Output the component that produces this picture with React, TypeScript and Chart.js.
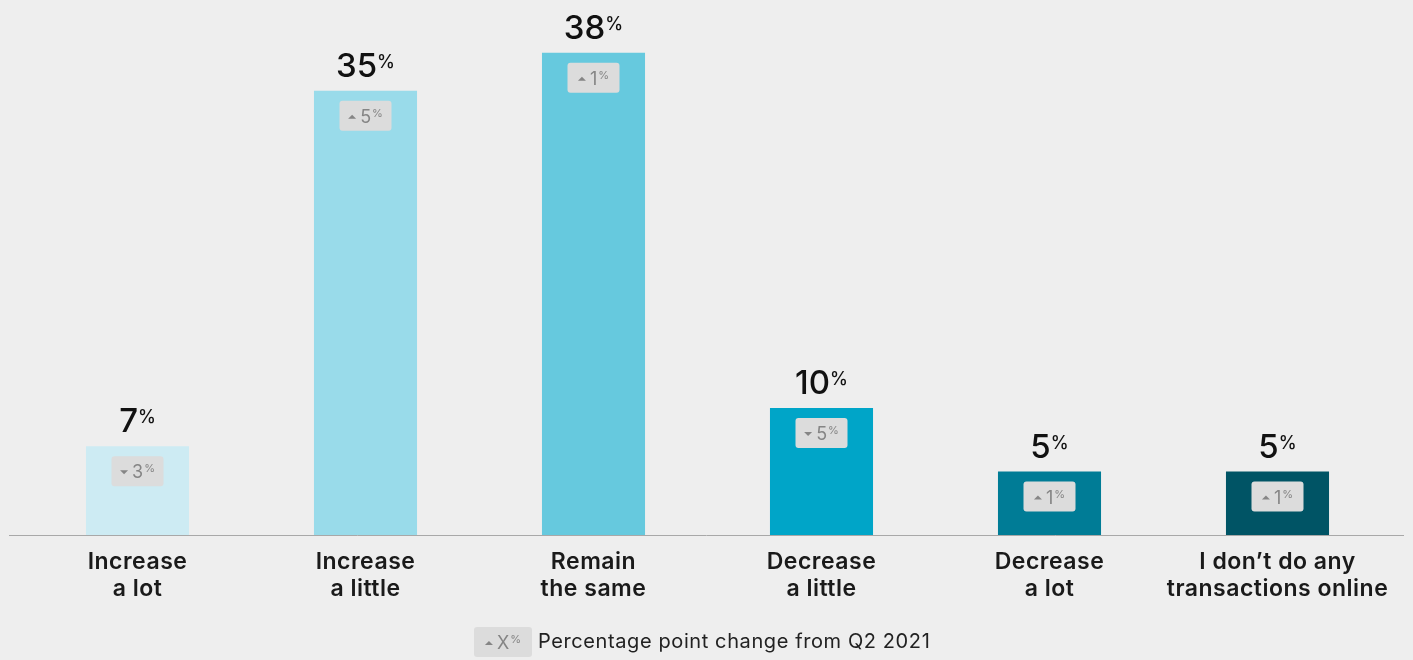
import React, { useEffect, useRef } from "react";
import { Chart, registerables } from "chart.js";

Chart.register(...registerables);

const categories: string[][] = [
  ["Increase", "a lot"],
  ["Increase", "a little"],
  ["Remain", "the same"],
  ["Decrease", "a little"],
  ["Decrease", "a lot"],
  ["I don’t do any", "transactions online"],
];
const shares: number[] = [7, 35, 38, 10, 5, 5];
const changeSizes: string[] = ["3", "5", "1", "5", "1", "1"];
const changeDirections: string[] = ["down", "up", "up", "down", "up", "up"];
const barColors: string[] = ["#cdebf3", "#99dbea", "#66c9de", "#00a5c8", "#007c96", "#005465"];
const legendText = "Percentage point change from Q2 2021";

const FONT = "Inter, 'Noto Sans', sans-serif";

function roundRect(ctx: CanvasRenderingContext2D, x: number, y: number, w: number, h: number, r: number) {
  ctx.beginPath();
  ctx.moveTo(x + r, y);
  ctx.lineTo(x + w - r, y);
  ctx.quadraticCurveTo(x + w, y, x + w, y + r);
  ctx.lineTo(x + w, y + h - r);
  ctx.quadraticCurveTo(x + w, y + h, x + w - r, y + h);
  ctx.lineTo(x + r, y + h);
  ctx.quadraticCurveTo(x, y + h, x, y + h - r);
  ctx.lineTo(x, y + r);
  ctx.quadraticCurveTo(x, y, x + r, y);
  ctx.closePath();
}

function setSpacing(ctx: any, v: string) {
  if ("letterSpacing" in ctx) ctx.letterSpacing = v;
}

function drawBadge(ctx: CanvasRenderingContext2D, cx: number, top: number, w: number, dir: string, label: string) {
  const h = 30;
  ctx.save();
  setSpacing(ctx, "0px");
  ctx.fillStyle = "#dcdcdc";
  roundRect(ctx, cx - w / 2, top, w, h, 3);
  ctx.fill();
  ctx.textBaseline = "alphabetic";
  ctx.textAlign = "left";
  ctx.font = `400 18px ${FONT}`;
  const numW = ctx.measureText(label).width;
  ctx.font = `400 11px ${FONT}`;
  const pctW = ctx.measureText("%").width;
  const triW = 8;
  const gap = 4;
  const total = triW + gap + numW + 1 + pctW;
  let x = cx - total / 2;
  const baseline = top + 22;
  const ty = top + 16;
  ctx.fillStyle = "#858585";
  ctx.beginPath();
  if (dir === "up") {
    ctx.moveTo(x, ty + 2);
    ctx.lineTo(x + triW, ty + 2);
    ctx.lineTo(x + triW / 2, ty - 2);
  } else {
    ctx.moveTo(x, ty - 2);
    ctx.lineTo(x + triW, ty - 2);
    ctx.lineTo(x + triW / 2, ty + 2);
  }
  ctx.closePath();
  ctx.fill();
  x += triW + gap;
  ctx.font = `400 18px ${FONT}`;
  ctx.fillText(label, x, baseline);
  x += numW + 1;
  ctx.font = `400 11px ${FONT}`;
  ctx.fillText("%", x, baseline - 6);
  ctx.restore();
}

const overlayPlugin = {
  id: "overlay",
  beforeDraw(chart: any) {
    setSpacing(chart.ctx, "0.5px");
  },
  beforeDatasetsDraw(chart: any) {
    const ctx: CanvasRenderingContext2D = chart.ctx;
    const y = chart.chartArea.bottom + 0.5;
    ctx.save();
    ctx.strokeStyle = "#a8a8a8";
    ctx.lineWidth = 1;
    ctx.beginPath();
    ctx.moveTo(9, y);
    ctx.lineTo(1404, y);
    ctx.stroke();
    ctx.restore();
  },
  afterDatasetsDraw(chart: any) {
    const ctx: CanvasRenderingContext2D = chart.ctx;
    const meta = chart.getDatasetMeta(0);
    meta.data.forEach((bar: any, i: number) => {
      const cx = bar.x;
      const top = bar.y;
      ctx.save();
      setSpacing(ctx, "0px");
      ctx.textBaseline = "alphabetic";
      ctx.textAlign = "left";
      ctx.fillStyle = "#111111";
      const num = String(shares[i]);
      ctx.font = `500 33px ${FONT}`;
      const nw = ctx.measureText(num).width;
      ctx.font = `500 18px ${FONT}`;
      const pw = ctx.measureText("%").width;
      const start = cx - (nw + pw) / 2;
      ctx.font = `500 33px ${FONT}`;
      ctx.fillText(num, start, top - 14);
      ctx.font = `500 18px ${FONT}`;
      ctx.fillText("%", start + nw, top - 23);
      ctx.restore();
      drawBadge(ctx, cx, top + 10, 52, changeDirections[i], changeSizes[i]);
    });
    drawBadge(ctx, 503, 627, 58, "up", "X");
    ctx.save();
    setSpacing(ctx, "0.6px");
    ctx.fillStyle = "#222222";
    ctx.font = `400 20px ${FONT}`;
    ctx.textBaseline = "alphabetic";
    ctx.textAlign = "left";
    ctx.fillText(legendText, 538, 648);
    ctx.restore();
  },
};

export default function App() {
  const canvasRef = useRef<HTMLCanvasElement | null>(null);
  useEffect(() => {
    if (!canvasRef.current) return;
    const chart = new Chart(canvasRef.current, {
      type: "bar",
      data: {
        labels: categories,
        datasets: [
          {
            data: shares,
            backgroundColor: barColors,
            borderWidth: 0,
            barPercentage: 0.452,
            categoryPercentage: 1,
          },
        ],
      },
      options: {
        animation: false,
        responsive: true,
        maintainAspectRatio: false,
        layout: { padding: { left: 23.5, right: 21.5, top: 2, bottom: 0 } },
        plugins: { legend: { display: false }, tooltip: { enabled: false } },
        scales: {
          y: { display: false, min: 0, max: 42 },
          x: {
            grid: { display: false, drawTicks: false },
            border: { display: false },
            ticks: {
              color: "#1a1a1a",
              font: { family: FONT, size: 23, weight: "600", lineHeight: "27px" },
              padding: 14,
              maxRotation: 0,
              autoSkip: false,
            },
            afterFit: (scale: any) => {
              scale.height = 125;
            },
          },
        },
      },
      plugins: [overlayPlugin],
    });
    return () => chart.destroy();
  }, []);
  return (
    <div style={{ position: "absolute", left: 0, top: 0, width: 1413, height: 660, background: "#eeeeee" }}>
      <canvas ref={canvasRef} />
    </div>
  );
}
